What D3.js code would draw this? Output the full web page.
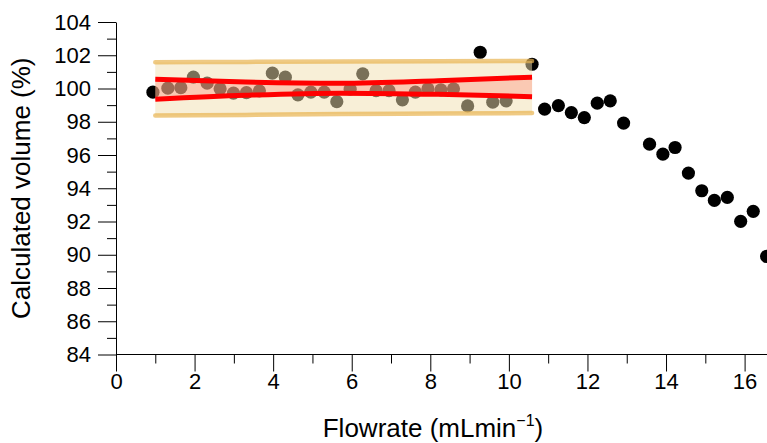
<!DOCTYPE html>
<html>
<head>
<meta charset="utf-8">
<script src="https://cdn.jsdelivr.net/npm/d3@7"></script>
<style>
    body { margin: 0; background: #fff; }
    text { font-family: "Liberation Sans", Arial, sans-serif; }
</style>
</head>
<body>
<svg width="767" height="443"></svg>
<script>
// measured points
var flow = [0.94, 1.32, 1.65, 1.97, 2.32, 2.65, 2.99, 3.32, 3.65, 3.98, 4.31, 4.63, 4.96, 5.30, 5.62,
    5.96, 6.28, 6.62, 6.95, 7.29, 7.62, 7.94, 8.27, 8.59, 8.95, 9.27, 9.59, 9.93, 10.59, 10.91,
    11.26, 11.59, 11.92, 12.25, 12.58, 12.92, 13.58, 13.92, 14.23, 14.57, 14.91, 15.23, 15.56, 15.90,
    16.22, 16.56];
var volume = [99.78, 100.02, 100.05, 100.68, 100.32, 99.98, 99.72, 99.75, 99.86, 100.92, 100.68, 99.62, 99.78, 99.78, 99.21,
    99.96, 100.88, 99.87, 99.87, 99.32, 99.78, 99.98, 99.92, 99.98, 98.95, 102.18, 99.18, 99.26, 101.46, 98.76,
    98.97, 98.55, 98.25, 99.12, 99.26, 97.92, 96.65, 96.05, 96.45, 94.91, 93.85, 93.27, 93.45, 92.01,
    92.61, 89.90];

// fit bands
var bandX = [1.0, 3.3, 5.71, 8.2, 10.59];
var predUpper = [101.58, 101.60, 101.62, 101.64, 101.66];
var predLower = [98.37, 98.41, 98.46, 98.49, 98.52];
var ciUpper = [100.56, 100.39, 100.32, 100.47, 100.68];
var ciLower = [99.36, 99.59, 99.72, 99.65, 99.51];

var xTicks = [0, 2, 4, 6, 8, 10, 12, 14, 16];
var xMinor = [1, 3, 5, 7, 9, 11, 13, 15];
var yTicks = [84, 86, 88, 90, 92, 94, 96, 98, 100, 102, 104];
var yMinor = [85, 87, 89, 91, 93, 95, 97, 99, 101, 103];

var svg = d3.select("svg"),
    W = +svg.attr("width"),
    H = +svg.attr("height");

var x = d3.scaleLinear().domain([0, 16.57]).range([116, 767]),
    y = d3.scaleLinear().domain([84, 104]).range([354.5, 22]);

var pts = flow.map(function (f, i) { return { x: f, y: volume[i] }; });

svg.append("g")
    .selectAll("circle")
    .data(pts)
    .enter().append("circle")
    .attr("cx", function (d) { return x(d.x); })
    .attr("cy", function (d) { return y(d.y); })
    .attr("r", 6.6)
    .attr("fill", "#000");

var band = bandX.map(function (b, i) {
    return { x: b, pu: predUpper[i], pl: predLower[i], cu: ciUpper[i], cl: ciLower[i] };
});

var area = function (hi, lo) {
    return d3.area()
        .curve(d3.curveMonotoneX)
        .x(function (d) { return x(d.x); })
        .y0(function (d) { return y(d[lo]); })
        .y1(function (d) { return y(d[hi]); });
};
var line = function (k) {
    return d3.line()
        .curve(d3.curveMonotoneX)
        .x(function (d) { return x(d.x); })
        .y(function (d) { return y(d[k]); });
};

svg.append("path")
    .datum(band)
    .attr("d", area("pu", "pl"))
    .attr("fill", "#f2dfb0")
    .attr("fill-opacity", 0.5);

svg.append("path")
    .datum(band)
    .attr("d", area("cu", "cl"))
    .attr("fill", "#ff6450")
    .attr("fill-opacity", 0.27);

["pu", "pl"].forEach(function (k) {
    svg.append("path")
        .datum(band)
        .attr("d", line(k))
        .attr("fill", "none")
        .attr("stroke", "#e8b450")
        .attr("stroke-opacity", 0.7)
        .attr("stroke-width", 4.5)
        .attr("stroke-linecap", "round");
});

["cu", "cl"].forEach(function (k) {
    svg.append("path")
        .datum(band)
        .attr("d", line(k))
        .attr("fill", "none")
        .attr("stroke", "#ff0000")
        .attr("stroke-width", 5);
});

// axes
var gx = svg.append("g").attr("transform", "translate(0," + y(84) + ")");
gx.call(d3.axisBottom(x).tickValues(xTicks).tickSize(17).tickSizeOuter(0).tickPadding(2));
gx.append("g").call(d3.axisBottom(x).tickValues(xMinor).tickSize(9).tickFormat(""))
    .select(".domain").remove();
gx.select(".domain").attr("d", "M" + x(0) + ",0H" + W);

var gy = svg.append("g").attr("transform", "translate(" + x(0) + ",0)");
gy.call(d3.axisLeft(y).tickValues(yTicks).tickSize(18).tickSizeOuter(0).tickPadding(7));
gy.append("g").call(d3.axisLeft(y).tickValues(yMinor).tickSize(9).tickFormat(""))
    .select(".domain").remove();

svg.selectAll(".tick text")
    .attr("font-size", 22)
    .attr("font-family", "Liberation Sans, Arial, sans-serif")
    .attr("fill", "#000");
svg.selectAll(".tick line").attr("stroke", "#000");
svg.selectAll(".domain").attr("stroke", "#000");

svg.append("text")
    .attr("transform", "translate(30," + ((y(84) + y(104)) / 2) + ") rotate(-90)")
    .attr("text-anchor", "middle")
    .attr("font-size", 26)
    .text("Calculated volume (%)");

var t = svg.append("text")
    .attr("x", 433)
    .attr("y", 437)
    .attr("text-anchor", "middle")
    .attr("font-size", 26);
t.append("tspan").text("Flowrate (mLmin");
t.append("tspan").attr("font-size", 16).attr("dy", "-0.7em").text("\u22121");
t.append("tspan").attr("dy", "0.42em").text(")");
</script>
</body>
</html>
